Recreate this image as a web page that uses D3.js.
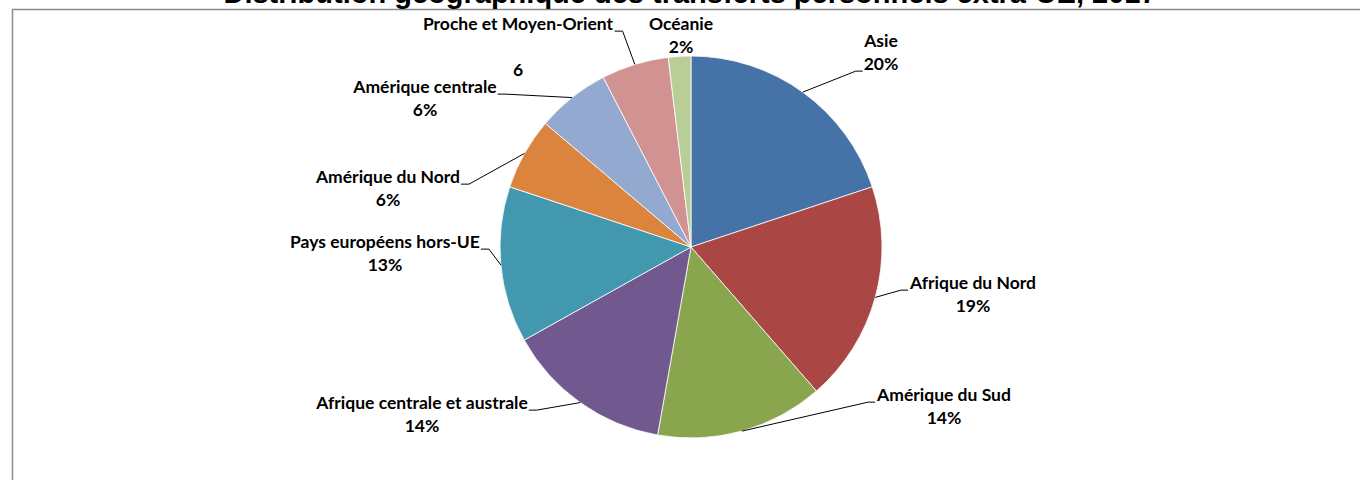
<!DOCTYPE html>
<html>
<head>
<meta charset="utf-8">
<script src="https://cdn.jsdelivr.net/npm/d3@7"></script>
<style>
  body { margin: 0; background: #fff; }
  svg { display: block; }
</style>
</head>
<body>
<script>
// data (percent of extra-EU personal transfers)
const regions = ["Asie", "Afrique du Nord", "Amérique du Sud", "Afrique centrale et australe",
    "Pays européens hors-UE", "Amérique du Nord", "Amérique centrale", "Proche et Moyen-Orient", "Océanie"];
const shares = [19.9, 18.7, 14.2, 14.1, 13.2, 6.1, 6.2, 5.7, 1.9];
const colors = ["#4572A7", "#AA4643", "#89A54E", "#71588F", "#4198AF", "#DB843D", "#93A9CF", "#D19392", "#B9CD96"];
const title = "Distribution géographique des transferts personnels extra-UE, 2017";

// label layout: centre of the label block, side the leader joins, and which line it joins
const labelLayout = [
    {x: 881, y: 41, side: "left", line: 1},
    {x: 973, y: 283, side: "left", line: 0},
    {x: 944, y: 395, side: "left", line: 0},
    {x: 422, y: 403, side: "right", line: 0},
    {x: 385, y: 242, side: "right", line: 0},
    {x: 388, y: 177, side: "right", line: 0},
    {x: 425, y: 87, side: "right", line: 0},
    {x: 518, y: 24, side: "right", line: 0, pctAt: {x: 518, y: 70}, pctText: "6"},
    {x: 681, y: 24, side: null, line: 0}
];

const width = 1360, height = 480;
const cx = 691, cy = 247, radius = 191;
const lineGap = 23;

const svg = d3.select("body").append("svg")
    .attr("width", width)
    .attr("height", height);

// chart area frame (runs off the right and bottom of the picture)
svg.append("rect")
    .attr("x", 12.5).attr("y", 9.5)
    .attr("width", width + 20).attr("height", height + 20)
    .attr("fill", "none")
    .attr("stroke", "#8c8c8c")
    .attr("stroke-width", 1.5);

svg.append("text")
    .attr("x", 690).attr("y", 3)
    .attr("text-anchor", "middle")
    .style("font", "bold 29px 'Liberation Sans', Arial, sans-serif")
    .attr("fill", "#000")
    .text(title);

const data = regions.map((r, i) => ({region: r, value: shares[i], color: colors[i], layout: labelLayout[i]}));

const pie = d3.pie().sort(null).value(d => d.value);
const arc = d3.arc().innerRadius(0).outerRadius(radius);
const edge = d3.arc().innerRadius(radius).outerRadius(radius);
const fmt = v => d3.format(".0%")(v / 100);

const g = svg.append("g").attr("transform", "translate(" + cx + "," + cy + ")");
const arcs = pie(data);

g.selectAll("path.slice")
    .data(arcs)
    .enter().append("path")
    .attr("class", "slice")
    .attr("d", arc)
    .attr("fill", d => d.data.color)
    .attr("stroke", "#fff")
    .attr("stroke-width", 0.8);

const labelFont = "bold 17.5px Lato, 'Open Sans', sans-serif";
const labels = svg.append("g");

arcs.forEach(a => {
    const L = a.data.layout;
    const lg = labels.append("g");
    const name = lg.append("text")
        .attr("x", L.x).attr("y", L.y).attr("dy", "0.35em")
        .attr("text-anchor", "middle")
        .style("font", labelFont)
        .attr("fill", "#000")
        .text(a.data.region);
    const pctPos = L.pctAt || {x: L.x, y: L.y + lineGap};
    const pct = lg.append("text")
        .attr("x", pctPos.x).attr("y", pctPos.y).attr("dy", "0.35em")
        .attr("text-anchor", "middle")
        .style("font", labelFont)
        .attr("fill", "#000")
        .text(L.pctText || fmt(a.data.value));

    if (!L.side) return;
    const box = (L.line === 0 ? name : pct).node().getBBox();
    const ly = box.y + box.height - 3;
    const endX = L.side === "left" ? box.x - 1 : box.x + box.width + 1;
    const elbowX = L.side === "left" ? endX - 7 : endX + 8;
    const c = edge.centroid(a);
    const pts = [[cx + c[0], cy + c[1]], [elbowX, ly], [endX, ly]];
    svg.append("path")
        .attr("d", d3.line()(pts))
        .attr("fill", "none")
        .attr("stroke", "#000")
        .attr("stroke-width", 1);
});
</script>
</body>
</html>
